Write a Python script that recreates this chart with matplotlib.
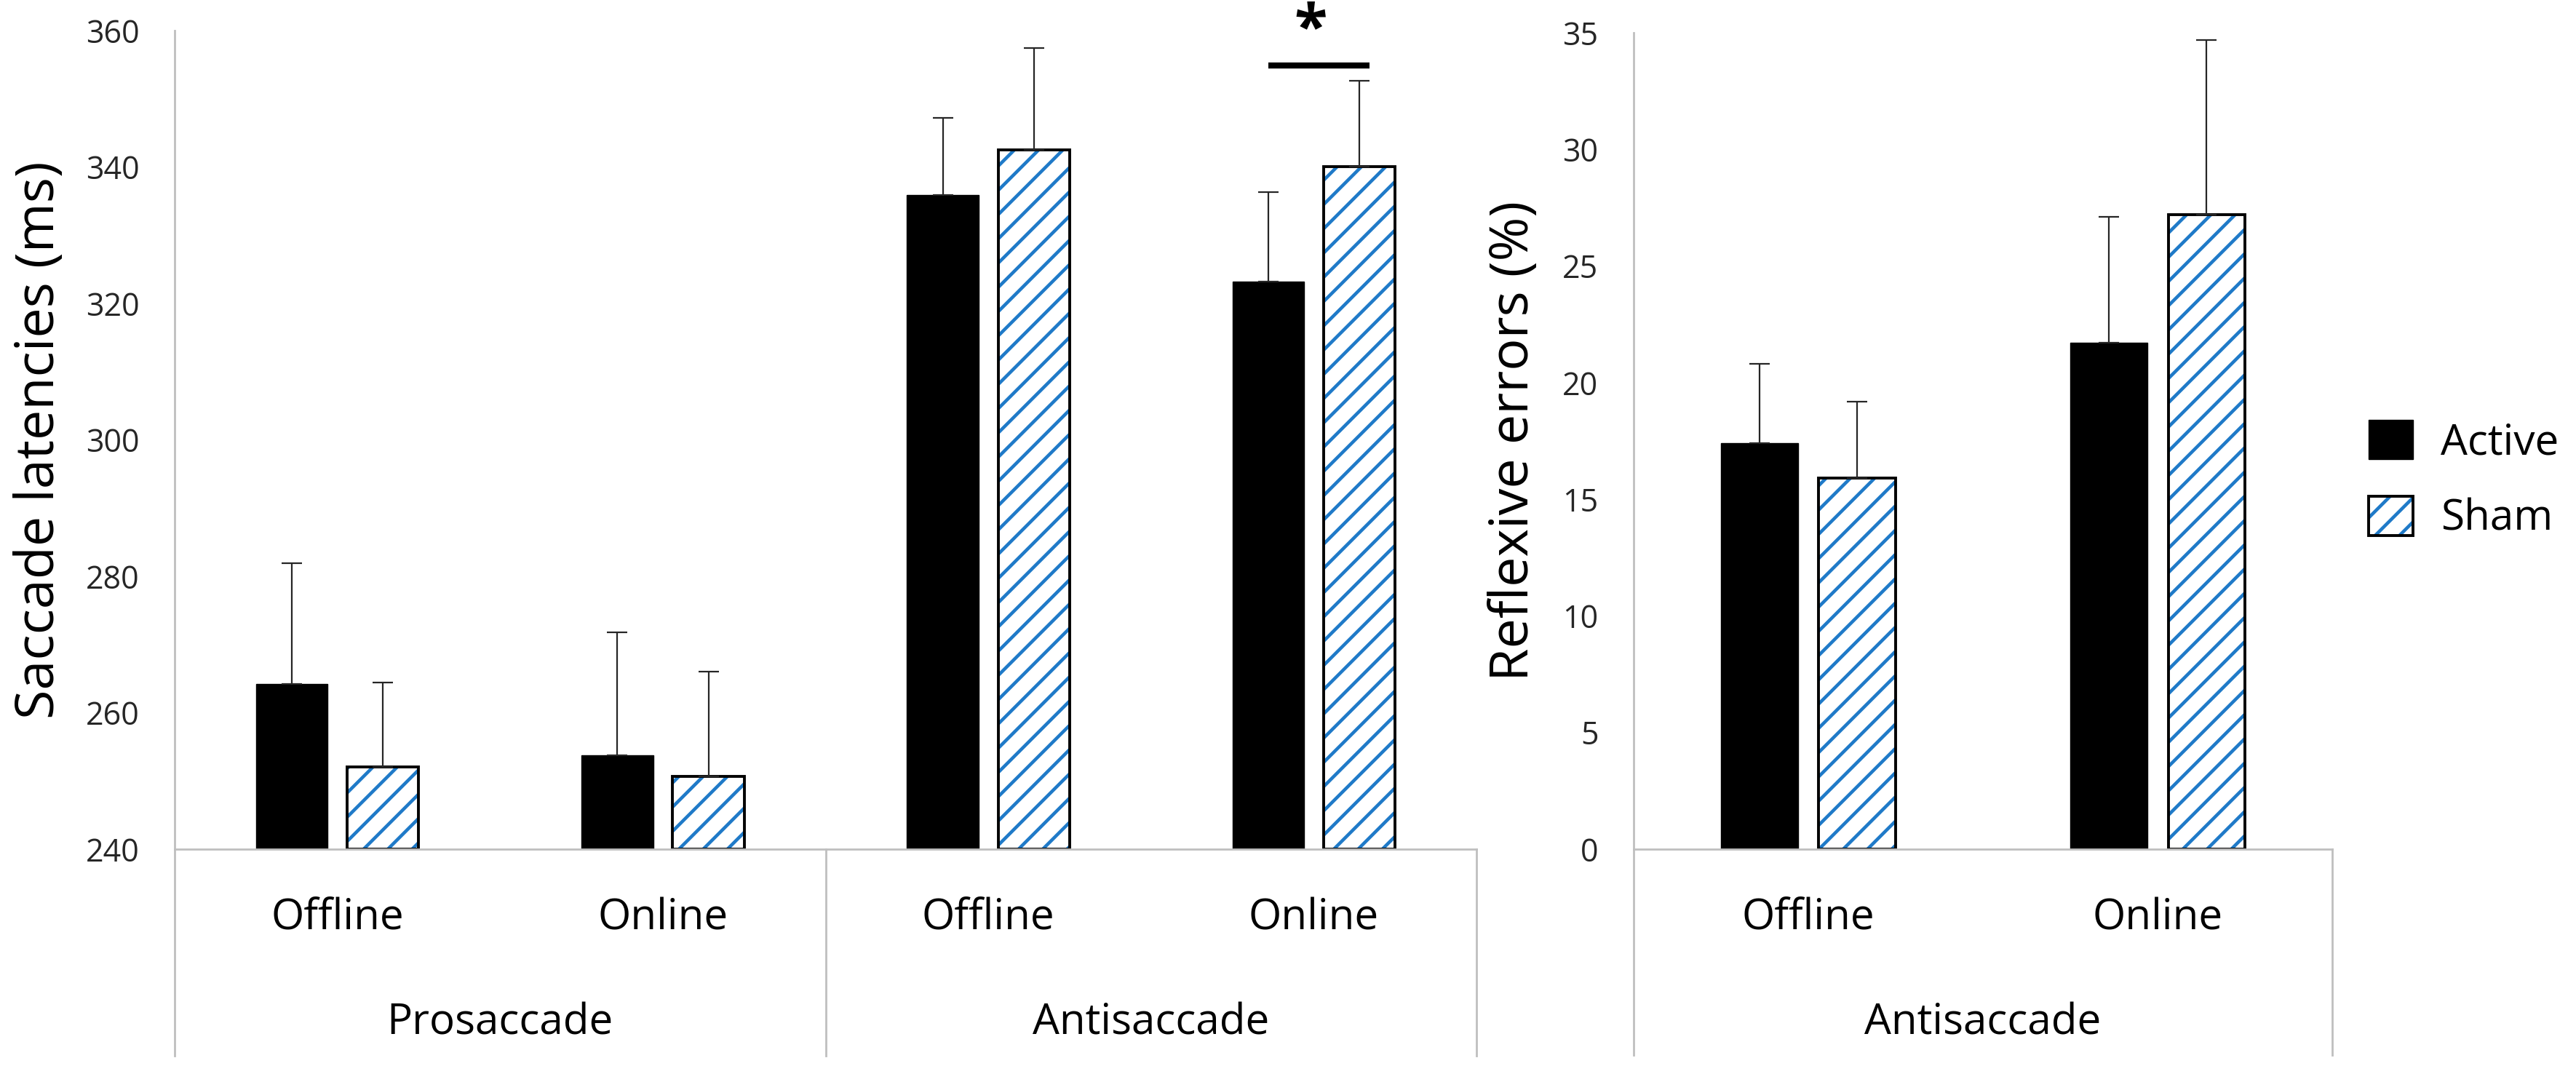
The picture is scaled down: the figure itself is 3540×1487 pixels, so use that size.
import numpy as np
import matplotlib
matplotlib.use("Agg")
import matplotlib.pyplot as plt
from matplotlib.patches import Patch
from matplotlib.legend_handler import HandlerTuple
from matplotlib.transforms import blended_transform_factory

# data
conditions = ['Offline', 'Online']
groups = ['Prosaccade', 'Antisaccade']

lat_active = [264.2, 253.8, 335.9, 323.2]
lat_active_err = [17.7, 18.0, 11.3, 13.1]
lat_sham = [252.0, 250.7, 342.5, 340.0]
lat_sham_err = [12.4, 15.3, 14.9, 12.6]

err_active = [17.4, 21.7]
err_active_err = [3.4, 5.4]
err_sham = [15.9, 27.2]
err_sham_err = [3.3, 7.5]

lat_ticks = [240, 260, 280, 300, 320, 340, 360]
err_ticks = [0, 5, 10, 15, 20, 25, 30, 35]

BLUE = '#1f7ac8'
GREY = '#bfbfbf'
FONT = ['Open Sans', 'DejaVu Sans']

plt.rcParams['hatch.linewidth'] = 3.3

fig = plt.figure(figsize=(35.4, 14.87), dpi=100)
ax1 = fig.add_axes([0.0678, 0.2152, 0.5054, 0.7566])
ax2 = fig.add_axes([0.6342, 0.2152, 0.2712, 0.7545])

W = 0.22
OFF = 0.14


def draw_panel(ax, active, active_err, sham, sham_err, base, ymax, ticks, ylabel, lab_x, lab_size):
    n = len(active)
    x = np.arange(n)
    ha = np.array(active) - base
    hs = np.array(sham) - base
    ax.bar(x - OFF, ha, W, bottom=base, color='black', edgecolor='black', linewidth=1, zorder=2)
    # blue hatch first, black outline on top
    ax.bar(x + OFF, hs, W, bottom=base, facecolor='white', edgecolor=BLUE, linewidth=0,
           hatch='/', zorder=2)
    ax.bar(x + OFF, hs, W, bottom=base, facecolor='none', edgecolor='black', linewidth=2.8,
           zorder=2.5)
    ax.errorbar(x - OFF, active, yerr=[np.zeros(n), active_err], fmt='none', ecolor='#262626',
                elinewidth=1.6, capsize=10, capthick=1.6, zorder=3)
    ax.errorbar(x + OFF, sham, yerr=[np.zeros(n), sham_err], fmt='none', ecolor='#262626',
                elinewidth=1.6, capsize=10, capthick=1.6, zorder=3)

    ax.set_xlim(-0.5, n - 0.5)
    ax.set_ylim(base, ymax)
    ax.set_yticks(ticks)
    ax.set_yticklabels([str(t) for t in ticks], family=FONT, fontsize=31)
    ax.tick_params(axis='y', length=0, pad=35, colors='#262626')
    ax.set_xticks([])
    for s in ['top', 'right']:
        ax.spines[s].set_visible(False)
    for s in ['left', 'bottom']:
        ax.spines[s].set_color(GREY)
        ax.spines[s].set_linewidth(2)

    ax.set_ylabel(ylabel, family=FONT, fontsize=lab_size, color='black')
    ax.yaxis.set_label_coords(lab_x, 0.5)

    # multi-level category axis below the plot
    tr = blended_transform_factory(ax.transData, ax.transAxes)
    n_groups = n // 2
    for g in range(n_groups + 1):
        xs = g * 2 - 0.5
        ax.plot([xs, xs], [0, -0.252], transform=tr, color=GREY, lw=2, clip_on=False)
    for i in range(n):
        ax.text(i, -0.085, conditions[i % 2], transform=tr, ha='center', va='center',
                family=FONT, fontsize=42, color='black')
    return tr


tr1 = draw_panel(ax1, lat_active, lat_active_err, lat_sham, lat_sham_err, 240, 360, lat_ticks,
                 'Saccade latencies (ms)', -0.083, 53)
for g, name in enumerate(groups):
    ax1.text(2 * g + 0.5, -0.213, name, transform=tr1, ha='center', va='center',
             family=FONT, fontsize=42)

tr2 = draw_panel(ax2, err_active, err_active_err, err_sham, err_sham_err, 0, 35, err_ticks,
                 'Reflexive errors (%)', -0.132, 53)
ax2.text(0.5, -0.213, groups[1], transform=tr2, ha='center', va='center',
         family=FONT, fontsize=42)

# significance marker, Antisaccade online
sig_y = 354.9
ax1.plot([3 - OFF, 3 + OFF + 0.03], [sig_y, sig_y], color='black', lw=6, solid_capstyle='butt',
         clip_on=False, zorder=4)
ax1.text(3 - 0.01, sig_y + 0.6, '*', ha='center', va='bottom', fontsize=60, fontweight='bold',
         family=FONT)

active_h = Patch(facecolor='black', edgecolor='black', label='Active')
sham_fill = Patch(facecolor='white', edgecolor=BLUE, linewidth=0, hatch='/')
sham_edge = Patch(facecolor='none', edgecolor='black', linewidth=2.8)
fig.legend(handles=[active_h, (sham_fill, sham_edge)], labels=['Active', 'Sham'],
           handler_map={tuple: HandlerTuple(ndivide=1, pad=0)},
           loc='center left', bbox_to_anchor=(3255 / 3540, 1 - 660 / 1487),
           frameon=False, prop={'family': FONT, 'size': 42}, handlelength=1.05,
           handleheight=1.05, handletextpad=0.65, labelspacing=0.75, borderpad=0, borderaxespad=0)

fig.savefig('out.png', dpi=100, facecolor='white')
